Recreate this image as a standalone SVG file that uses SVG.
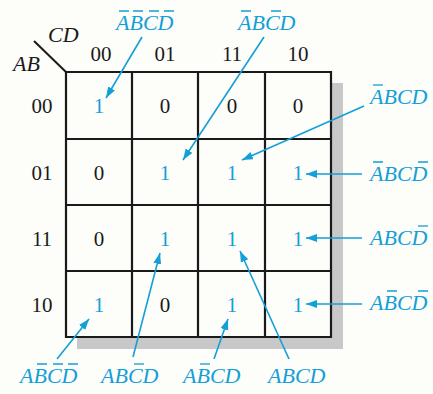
<svg xmlns="http://www.w3.org/2000/svg" width="433" height="394" viewBox="0 0 433 394">
<style>
.num{font-family:"Liberation Serif",serif;font-size:21px;text-anchor:middle;fill:#1a1a1a}
.one{fill:#139fd8}
.it{font-family:"Liberation Serif",serif;font-style:italic;font-size:22px;fill:#1a1a1a}
.lab{font-family:"Liberation Serif",serif;font-style:italic;font-size:22px;fill:#139fd8}
.bar{stroke:#139fd8;stroke-width:1.3}
.grid{stroke:#1a1a1a;stroke-width:2.2;fill:none}
.arr{stroke:#139fd8;stroke-width:1.6;fill:none;marker-end:url(#ah)}
</style>
<defs>
<marker id="ah" markerUnits="userSpaceOnUse" markerWidth="12" markerHeight="10" refX="11" refY="4" orient="auto">
<path d="M0,0 L11,4 L0,8 Z" fill="#139fd8"/>
</marker>
</defs>
<rect width="433" height="394" fill="#fdfdfa"/>
<g id="map">
<rect x="77" y="83" width="266" height="266" fill="#c8c8c8"/>
<rect x="66" y="72" width="265" height="265" fill="#fdfdfa"/>
<path class="grid" d="M66,72H331V337H66Z M132,72V337 M198,72V337 M265,72V337 M66,139H331 M66,205H331 M66,271H331"/>
<line x1="34" y1="41" x2="66" y2="72" stroke="#1a1a1a" stroke-width="2"/>
<text class="it" x="48" y="42">CD</text>
<text class="it" x="13" y="71">AB</text>
</g>
<g id="headers">
<text class="num" x="101" y="61">00</text>
<text class="num" x="165" y="61">01</text>
<text class="num" x="232" y="61">11</text>
<text class="num" x="298" y="61">10</text>
<text class="num" x="42" y="113">00</text>
<text class="num" x="42" y="180">01</text>
<text class="num" x="42" y="246">11</text>
<text class="num" x="42" y="312">10</text>
</g>
<g id="cells">
<text class="num one" x="99" y="113">1</text>
<text class="num" x="165" y="113">0</text>
<text class="num" x="232" y="113">0</text>
<text class="num" x="298" y="113">0</text>
<text class="num" x="99" y="180">0</text>
<text class="num one" x="165" y="180">1</text>
<text class="num one" x="232" y="180">1</text>
<text class="num one" x="298" y="180">1</text>
<text class="num" x="99" y="246">0</text>
<text class="num one" x="165" y="246">1</text>
<text class="num one" x="232" y="246">1</text>
<text class="num one" x="298" y="246">1</text>
<text class="num one" x="99" y="312">1</text>
<text class="num" x="165" y="312">0</text>
<text class="num one" x="232" y="312">1</text>
<text class="num one" x="298" y="312">1</text>
</g>
<g id="connectors">
<line class="arr" x1="142" y1="37" x2="106" y2="98"/>
<line class="arr" x1="264" y1="37" x2="183" y2="160"/>
<line class="arr" x1="364" y1="106" x2="242" y2="160"/>
<line class="arr" x1="362" y1="174" x2="306" y2="174"/>
<line class="arr" x1="362" y1="238" x2="306" y2="238"/>
<line class="arr" x1="362" y1="304" x2="306" y2="304"/>
<line class="arr" x1="57" y1="359" x2="89" y2="319"/>
<line class="arr" x1="133" y1="357" x2="160" y2="253"/>
<line class="arr" x1="214" y1="359" x2="228" y2="319"/>
<line class="arr" x1="289" y1="359" x2="240" y2="251"/>
</g>
<g id="labels">
<text class="lab" x="116" y="30">ABCD</text>
<path class="bar" d="M119,11h10 M133,11h10 M149,11h10 M164,11h10"/>
<text class="lab" x="238" y="30">ABCD</text>
<path class="bar" d="M241,11h10 M271,11h10"/>
<text class="lab" x="370" y="104">ABCD</text>
<path class="bar" d="M373,85h10"/>
<text class="lab" x="370" y="181">ABCD</text>
<path class="bar" d="M373,162h10 M418,162h10"/>
<text class="lab" x="370" y="245">ABCD</text>
<path class="bar" d="M418,226h10"/>
<text class="lab" x="370" y="310">ABCD</text>
<path class="bar" d="M387,291h10 M418,291h10"/>
<text class="lab" x="20" y="383">ABCD</text>
<path class="bar" d="M37,364h10 M53,364h10 M68,364h10"/>
<text class="lab" x="101" y="383">ABCD</text>
<path class="bar" d="M134,364h10"/>
<text class="lab" x="183" y="383">ABCD</text>
<path class="bar" d="M200,364h10"/>
<text class="lab" x="268" y="383">ABCD</text>
</g>
</svg>
